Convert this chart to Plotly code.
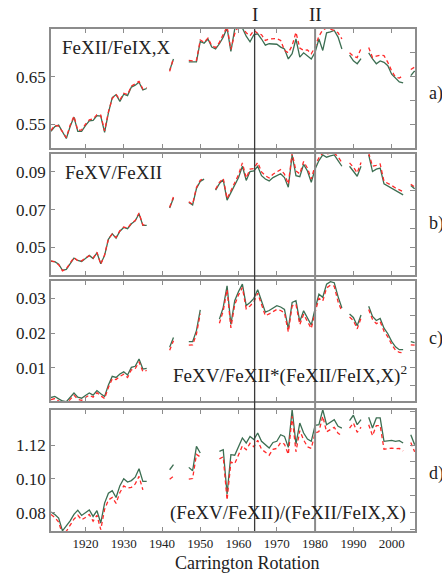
import plotly.graph_objects as go

N = None
cr = list(range(1911, 2007))

# Panel a: FeXII/FeIX,X
a_green = [0.535, 0.545, 0.548, 0.533, 0.520, 0.545, 0.565, 0.535, 0.535, 0.547,
           0.557, 0.558, 0.568, 0.567, 0.533, 0.574, 0.606, 0.612, 0.598, 0.613,
           0.610, 0.628, 0.632, 0.638, 0.622, 0.625, N, N, N, N,
           N, 0.663, 0.687, N, N, N, 0.681, 0.681, 0.681, 0.724,
           0.720, 0.729, 0.712, 0.708, 0.719, 0.733, 0.752, 0.703, 0.750, 0.755,
           0.752, 0.735, 0.723, 0.738, 0.740, 0.729, 0.716, 0.719, 0.718, 0.718,
           0.712, 0.708, 0.687, 0.698, 0.729, 0.691, 0.700, 0.693, 0.687, 0.701,
           0.729, 0.705, 0.742, 0.744, 0.747, 0.733, 0.708, N, 0.695, 0.683,
           0.677, 0.688, N, 0.700, 0.687, 0.677, 0.683, 0.680, 0.673, 0.655,
           0.648, 0.639, 0.637, N, 0.652, 0.662]
a_red = [0.537, 0.548, 0.546, 0.535, 0.522, 0.548, 0.567, 0.537, 0.538, 0.550,
         0.559, 0.561, 0.570, 0.569, 0.536, 0.576, 0.604, 0.613, 0.601, 0.615,
         0.612, 0.630, 0.635, 0.640, 0.624, 0.627, N, N, N, N,
         N, 0.661, 0.689, N, N, N, 0.684, 0.683, 0.684, 0.727,
         0.722, 0.731, 0.715, 0.711, 0.722, 0.737, 0.755, 0.707, 0.740, 0.757,
         0.755, 0.742, 0.736, 0.747, 0.741, 0.738, 0.726, 0.729, 0.730, 0.730,
         0.726, 0.705, 0.700, 0.715, 0.743, 0.710, 0.705, 0.706, 0.698, 0.712,
         0.735, 0.748, 0.752, 0.750, 0.747, 0.742, 0.729, N, 0.700, 0.693,
         0.690, 0.709, N, 0.711, 0.690, 0.693, 0.695, 0.694, 0.680, 0.662,
         0.649, 0.647, 0.652, N, 0.665, 0.670]

# Panel b: FeXV/FeXII
b_green = [0.0426, 0.0424, 0.0410, 0.0378, 0.0383, 0.0415, 0.0443, 0.0430, 0.0425, 0.0440,
           0.0457, 0.0440, 0.0471, 0.0413, 0.0457, 0.0542, 0.0572, 0.0549, 0.0585, 0.0605,
           0.0599, 0.0625, 0.0640, 0.0678, 0.0616, 0.0616, N, N, N, N,
           N, 0.0708, 0.0762, N, N, N, 0.0738, 0.0725, 0.0812, 0.0850,
           0.0862, N, N, 0.0803, 0.0838, 0.0858, 0.0750, 0.0790, 0.0828, 0.0870,
           0.0930, 0.0855, 0.0902, 0.0905, 0.0930, 0.0880, 0.0862, 0.0852, 0.0870, 0.0880,
           0.0890, 0.0870, 0.0819, 0.0990, 0.0880, 0.0875, 0.0940, 0.0905, 0.0845, 0.0915,
           0.0960, 0.0990, 0.0978, 0.0985, 0.0990, 0.0960, 0.0930, N, 0.0930, 0.0905,
           0.0877, 0.0930, N, 0.0990, 0.0902, 0.0915, 0.0920, 0.0837, 0.0825, 0.0812,
           0.0798, 0.0790, 0.0778, N, 0.0828, 0.0810]
b_red = [0.0428, 0.0422, 0.0408, 0.0375, 0.0386, 0.0418, 0.0446, 0.0428, 0.0428, 0.0443,
         0.0455, 0.0443, 0.0474, 0.0410, 0.0460, 0.0545, 0.0570, 0.0552, 0.0588, 0.0608,
         0.0601, 0.0628, 0.0642, 0.0682, 0.0618, 0.0620, N, N, N, N,
         N, 0.0712, 0.0768, N, N, N, 0.0742, 0.0728, 0.0818, 0.0856,
         0.0866, N, N, 0.0808, 0.0845, 0.0866, 0.0758, 0.0800, 0.0840, 0.0885,
         0.0948, 0.0868, 0.0915, 0.0918, 0.0950, 0.0900, 0.0880, 0.0868, 0.0888, 0.0900,
         0.0912, 0.0888, 0.0835, 0.1000, 0.0905, 0.0890, 0.0955, 0.0920, 0.0862, 0.0935,
         0.0975, 0.1000, 0.0995, 0.1000, 0.1000, 0.0980, 0.0950, N, 0.0948, 0.0925,
         0.0895, 0.0950, N, 0.1000, 0.0930, 0.0935, 0.0942, 0.0850, 0.0840, 0.0828,
         0.0815, 0.0805, 0.0795, N, 0.0835, 0.0820]

# Panel c: FeXV/FeXII*(FeXII/FeIX,X)^2
c_green = [0.0014, 0.0017, 0.0010, 0.0004, 0.0002, 0.0015, 0.0027, 0.0015, 0.0012, 0.0020,
           0.0027, 0.0021, 0.0034, 0.0025, 0.0017, 0.0050, 0.0075, 0.0072, 0.0082, 0.0088,
           0.0079, 0.0101, 0.0104, 0.0125, 0.0096, 0.0098, N, N, N, N,
           N, 0.0159, 0.0187, N, N, N, 0.0175, 0.0175, 0.0207, 0.0267,
           N, N, N, N, 0.0240, 0.0274, 0.0336, 0.0225, 0.0293, 0.0320,
           0.0341, 0.0279, 0.0288, 0.0300, 0.0325, 0.0290, 0.0260, 0.0265, 0.0272, 0.0279,
           0.0275, 0.0268, 0.0212, 0.0288, 0.0293, 0.0233, 0.0264, 0.0242, 0.0223, 0.0270,
           0.0312, 0.0303, 0.0341, 0.0348, 0.0345, 0.0305, 0.0272, N, 0.0255, 0.0245,
           0.0221, 0.0252, N, 0.0277, 0.0248, 0.0236, 0.0242, 0.0214, 0.0198, 0.0176,
           0.0160, 0.0152, 0.0152, N, 0.0175, 0.0172]
c_red = [0.0008, 0.0011, 0.0004, -0.0002, -0.0004, 0.0010, 0.0021, 0.0009, 0.0006, 0.0014,
         0.0021, 0.0015, 0.0028, 0.0019, 0.0011, 0.0043, 0.0068, 0.0066, 0.0075, 0.0081,
         0.0072, 0.0094, 0.0097, 0.0117, 0.0089, 0.0092, N, N, N, N,
         N, 0.0150, 0.0178, N, N, N, 0.0165, 0.0166, 0.0197, 0.0256,
         N, N, N, N, 0.0228, 0.0264, 0.0325, 0.0215, 0.0282, 0.0310,
         0.0331, 0.0270, 0.0278, 0.0290, 0.0315, 0.0280, 0.0250, 0.0255, 0.0262, 0.0268,
         0.0265, 0.0258, 0.0203, 0.0278, 0.0283, 0.0224, 0.0254, 0.0232, 0.0213, 0.0260,
         0.0300, 0.0292, 0.0330, 0.0338, 0.0335, 0.0290, 0.0262, N, 0.0246, 0.0236,
         0.0212, 0.0243, N, 0.0268, 0.0239, 0.0227, 0.0233, 0.0205, 0.0189, 0.0167,
         0.0151, 0.0144, 0.0143, N, 0.0166, 0.0165]

# Panel d: (FeXV/FeXII)/(FeXII/FeIX,X)
d_green = [0.0804, 0.0790, 0.0768, 0.0693, 0.0722, 0.0752, 0.0790, 0.0815, 0.0784, 0.0800,
           0.0817, 0.0778, 0.0812, 0.0739, 0.0857, 0.0915, 0.0930, 0.0890, 0.0960, 0.1001,
           0.0981, 0.0990, 0.1010, 0.1060, 0.0985, 0.0985, N, N, N, N,
           N, 0.1054, 0.1084, N, N, N, 0.1068, 0.1048, 0.1192, 0.1153,
           N, N, N, N, 0.1163, 0.1172, 0.0910, 0.1143, 0.1140, 0.1190,
           0.1242, 0.1212, 0.1251, 0.1232, 0.1271, 0.1222, 0.1200, 0.1182, 0.1215, 0.1222,
           0.1261, 0.1251, 0.1186, 0.1409, 0.1206, 0.1330, 0.1271, 0.1235, 0.1222, 0.1316,
           0.1320, 0.1409, 0.1320, 0.1335, 0.1350, 0.1311, 0.1300, N, 0.1344, 0.1376,
           0.1320, 0.1350, N, 0.1364, 0.1301, 0.1360, 0.1360, 0.1222, 0.1226, 0.1228,
           0.1222, 0.1226, 0.1212, N, 0.1261, 0.1202]
d_red = [0.0790, 0.0772, 0.0745, 0.0670, 0.0690, 0.0725, 0.0762, 0.0785, 0.0758, 0.0772,
         0.0790, 0.0750, 0.0785, 0.0700, 0.0820, 0.0875, 0.0890, 0.0855, 0.0920, 0.0958,
         0.0945, 0.0950, 0.0970, 0.1015, 0.0935, N, N, N, N, N,
         N, 0.0998, 0.1015, N, N, N, 0.0998, 0.1002, 0.1145, 0.1130,
         N, N, N, N, 0.1118, 0.1130, 0.0875, 0.1100, 0.1090, 0.1140,
         0.1195, 0.1172, 0.1210, 0.1190, 0.1228, 0.1175, 0.1158, 0.1140, 0.1175, 0.1180,
         0.1215, 0.1205, 0.1145, 0.1370, 0.1160, 0.1285, 0.1230, 0.1190, 0.1180, 0.1270,
         0.1280, 0.1370, 0.1278, 0.1290, 0.1305, 0.1270, 0.1255, N, 0.1300, 0.1330,
         0.1275, 0.1305, N, 0.1320, 0.1255, 0.1315, 0.1315, 0.1175, 0.1180, 0.1182,
         0.1178, 0.1180, 0.1165, N, 0.1215, 0.1160]

panel_titles = ["FeXII/FeIX,X", "FeXV/FeXII",
                "FeXV/FeXII*(FeXII/FeIX,X)<sup>2</sup>",
                "(FeXV/FeXII)/(FeXII/FeIX,X)"]
panel_letters = ["a)", "b)", "c)", "d)"]
event_cr = [1964.2, 1980.0]
event_labels = ["I", "II"]
x_ticks = [1920, 1930, 1940, 1950, 1960, 1970, 1980, 1990, 2000]

y_ranges = [[0.50, 0.75], [0.0353, 0.0995], [0.0004, 0.035], [0.0692, 0.1407]]
y_major = [[0.55, 0.65], [0.05, 0.07, 0.09], [0.01, 0.02, 0.03], [0.08, 0.10, 0.12]]
y_major_text = [["0.55", "0.65"], ["0.05", "0.07", "0.09"],
                ["0.01", "0.02", "0.03"], ["0.08", "0.10", "1.12"]]
y_minor = [[0.55, 0.60, 0.65, 0.70],
           [0.04, 0.05, 0.06, 0.07, 0.08, 0.09],
           [0.005, 0.01, 0.015, 0.02, 0.025, 0.03],
           [0.07, 0.08, 0.09, 0.10, 0.11, 0.12, 0.13, 0.14]]

greens = [a_green, b_green, c_green, d_green]
reds = [a_red, b_red, c_red, d_red]

H = 575.0
W_L, W_R = 51, 27
def py(p):
    return 1 - p / H

domains = [[py(148), py(29)], [py(275), py(154)], [py(401), py(281)], [py(531), py(410)]]

GREEN = "#3c6e52"
RED = "#ff2a2a"
FRAME = "#8c8c8c"
TXT = "#222222"
FONT = "Liberation Serif, Times New Roman, Times, serif"

fig = go.Figure()
layout = dict(
    width=442, height=575,
    margin=dict(l=W_L, r=W_R, t=0, b=0),
    paper_bgcolor="white", plot_bgcolor="white",
    showlegend=False,
    font=dict(family=FONT, color=TXT, size=17),
)

for i in range(4):
    n = i + 1
    xs = "" if n == 1 else str(n)
    fig.add_trace(go.Scatter(x=cr, y=greens[i], mode="lines",
                             line=dict(color=GREEN, width=1.3),
                             xaxis="x" + xs, yaxis="y" + xs,
                             connectgaps=False, hoverinfo="skip"))
    fig.add_trace(go.Scatter(x=cr, y=reds[i], mode="lines",
                             line=dict(color=RED, width=1.3, dash="4px,3px"),
                             xaxis="x" + xs, yaxis="y" + xs,
                             connectgaps=False, hoverinfo="skip"))
    # right-side tick axis
    fig.add_trace(go.Scatter(x=[], y=[], mode="lines", xaxis="x" + xs,
                             yaxis="y" + str(n + 4), hoverinfo="skip"))
    layout["xaxis" + xs] = dict(
        domain=[0, 1], anchor="y" + xs, range=[1911, 2006.1],
        tickvals=x_ticks, ticktext=[str(t) for t in x_ticks],
        showticklabels=(n == 4), ticks="inside", ticklen=4, tickwidth=1,
        tickcolor=FRAME, showline=True, linecolor=FRAME, linewidth=1.5,
        mirror="ticks", showgrid=False, zeroline=False,
        tickfont=dict(size=13, family=FONT, color=TXT),
    )
    layout["yaxis" + xs] = dict(
        domain=domains[i], anchor="x" + xs, range=y_ranges[i],
        tickvals=y_major[i], ticktext=y_major_text[i],
        ticks="inside", ticklen=4, tickwidth=1, tickcolor=FRAME,
        showline=True, linecolor=FRAME, linewidth=1.5, mirror=True,
        showgrid=False, zeroline=False,
        tickfont=dict(size=17, family=FONT, color=TXT),
    )
    layout["yaxis" + str(n + 4)] = dict(
        overlaying="y" + xs, anchor="x" + xs, side="right", range=y_ranges[i],
        tickvals=y_minor[i], showticklabels=False, ticks="inside", ticklen=5,
        tickwidth=1, tickcolor=FRAME, showline=False, showgrid=False,
        zeroline=False,
    )

fig.update_layout(**layout)

ann = []
ann.append(dict(text=panel_titles[0], x=(60 - W_L) / 364, y=py(47), xanchor="left", yanchor="middle"))
ann.append(dict(text=panel_titles[1], x=(63 - W_L) / 364, y=py(173), xanchor="left", yanchor="middle"))
ann.append(dict(text=panel_titles[2], x=(409 - W_L) / 364, y=py(374), xanchor="right", yanchor="middle"))
ann.append(dict(text=panel_titles[3], x=(408 - W_L) / 364, y=py(513), xanchor="right", yanchor="middle"))
letter_y = [93, 223, 338, 473]
for lt, yy in zip(panel_letters, letter_y):
    ann.append(dict(text=lt, x=(427 - W_L) / 364, y=py(yy), xanchor="left",
                    yanchor="middle", font=dict(size=18, family=FONT, color=TXT)))
for a in ann[:4]:
    a["font"] = dict(size=19, family=FONT, color=TXT)
for a in ann:
    a.update(xref="paper", yref="paper", showarrow=False)

for xc, lab in zip(event_cr, event_labels):
    ann.append(dict(text=lab, x=xc, xref="x", y=py(15), yref="paper", showarrow=False,
                    xanchor="center", yanchor="middle",
                    font=dict(size=19, family=FONT, color=TXT)))
ann.append(dict(text="Carrington Rotation", x=0.5376, y=py(563), xref="paper", yref="paper",
                showarrow=False, xanchor="center", yanchor="middle",
                font=dict(size=18, family=FONT, color=TXT)))
fig.update_layout(annotations=ann)

shapes = []
line_styles = [dict(color="#3a3a3a", width=1.3), dict(color="#8a8a8a", width=2)]
for xc, st in zip(event_cr, line_styles):
    shapes.append(dict(type="line", xref="x", yref="paper", x0=xc, x1=xc,
                       y0=py(531), y1=py(29), line=st, layer="above"))
fig.update_layout(shapes=shapes)

fig.write_html("out.html", config={"displayModeBar": False},
               post_script="document.body.style.margin='0';document.body.style.overflow='hidden';")
